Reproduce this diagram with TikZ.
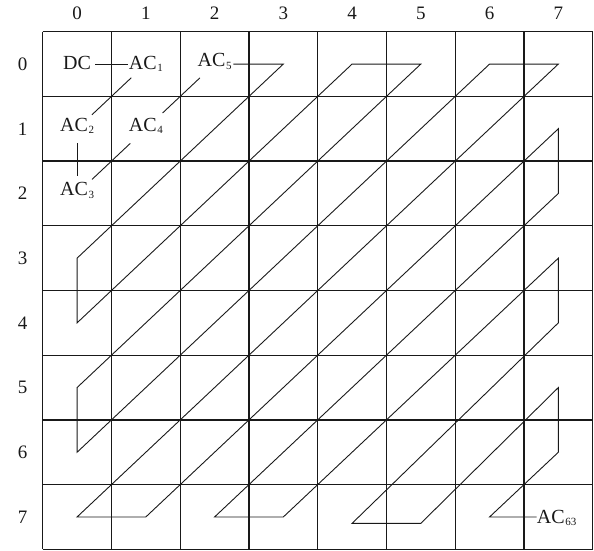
\documentclass[tikz,border=0pt]{standalone}
\usepackage{fontspec}
\setmainfont{Liberation Serif}
\usetikzlibrary{calc}
\newcommand{\acsub}[1]{AC\kern0.6pt\raisebox{-2.5pt}{\fontsize{11}{11}\selectfont #1}}
\tikzset{
  gridline/.style={line width=1.3pt, black!90},
  zig/.style={line width=0.9pt, black!90},
  lbl/.style={font=\fontsize{19}{22}\selectfont, inner sep=0pt, text=black!90},
  txt/.style={font=\fontsize{20}{24}\selectfont, inner sep=0pt, anchor=base, text=black!90}
}
\begin{document}
\begin{tikzpicture}[x=1pt,y=-1pt]
\useasboundingbox (0,0) rectangle (594,550);
% cell centres
\foreach \r in {0,...,7}
  \foreach \c in {0,...,7}
    \coordinate (p-\r-\c) at ({42.7+68.75*(\c+0.5)},{31.7+64.7*(\r+0.5)});
\coordinate (q-7-4) at ($(p-7-4)+(0,6.4)$);
\coordinate (q-7-5) at ($(p-7-5)+(0,6.4)$);
% grid
\foreach \i in {0,...,8} {
  \draw[gridline] ({42.7+68.75*\i},31.7) -- ({42.7+68.75*\i},549.3);
  \draw[gridline] (42.7,{31.7+64.7*\i}) -- (592.7,{31.7+64.7*\i});
}
% axis labels
\foreach \c in {0,...,7}
  \node[lbl, anchor=base] (col\c) at ({42.7+68.75*(\c+0.5)},19.3) {\c};
\foreach \r in {0,...,7}
  \node[lbl, anchor=base, yshift=-6.4pt] (row\r) at (22.7,{31.7+64.7*(\r+0.5)}) {\r};
% coefficient labels
\node[txt, yshift=-5.3pt] (dc) at (p-0-0) {DC};
\node[txt, yshift=-5.3pt] (ac1) at (p-0-1) {\acsub{1}};
\node[txt, yshift=-2.5pt] (ac2) at (p-1-0) {\acsub{2}};
\node[txt, yshift=-2.5pt] (ac3) at (p-2-0) {\acsub{3}};
\node[txt, yshift=-2.5pt] (ac4) at (p-1-1) {\acsub{4}};
\node[txt, yshift=-2.5pt] (ac5) at (p-0-2) {\acsub{5}};
\node[txt, anchor=base west, yshift=-6.4pt] (ac63) at ($(p-7-7)+(-21.6,0)$) {\acsub{63}};
% labelled connectors
\draw[zig, shorten <=18.2pt, shorten >=17.9pt] (p-0-0) -- (p-0-1);
\draw[zig, shorten <=20pt, shorten >=20.4pt] (p-0-1) -- (p-1-0);
\draw[zig, shorten <=14.6pt, shorten >=17.5pt] (p-1-0) -- (p-2-0);
\draw[zig, shorten <=20.5pt, shorten >=21.3pt] (p-2-0) -- (p-1-1);
\draw[zig, shorten <=23pt, shorten >=20.1pt] (p-1-1) -- (p-0-2);
% zigzag
\draw[zig, shorten <=18.7pt] (p-0-2) -- (p-0-3) -- (p-3-0) -- (p-4-0) -- (p-0-4) -- (p-0-5)
  -- (p-5-0) -- (p-6-0) -- (p-0-6) -- (p-0-7) -- (p-7-0) -- (p-7-1) -- (p-1-7) -- (p-2-7)
  -- (p-7-2) -- (p-7-3) -- (p-3-7) -- (p-4-7) -- (q-7-4) -- (q-7-5) -- (p-5-7) -- (p-6-7)
  -- (p-7-6) -- (p-7-6 -| ac63.west);
\end{tikzpicture}
\end{document}
